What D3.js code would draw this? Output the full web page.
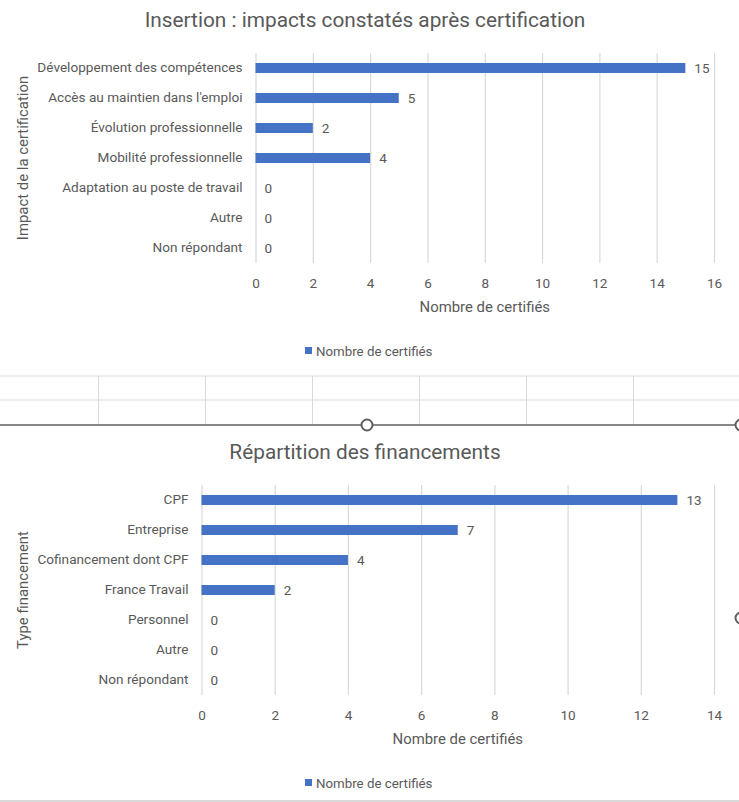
<!DOCTYPE html>
<html><head><meta charset="utf-8">
<script src="https://cdn.jsdelivr.net/npm/d3@7"></script>
<style>
html,body{margin:0;padding:0;background:#fff;}
svg{display:block;font-family:Roboto, "Open Sans", sans-serif;}
</style></head>
<body>
<svg id="c" width="739" height="802"></svg>
<script>
// ---- Data ----
const impactTitle = "Insertion : impacts constatés après certification";
const impactCategories = ["Développement des compétences","Accès au maintien dans l'emploi","Évolution professionnelle","Mobilité professionnelle","Adaptation au poste de travail","Autre","Non répondant"];
const impactValues = [15,5,2,4,0,0,0];
const impactTicks = [0,2,4,6,8,10,12,14,16];
const impactYTitle = "Impact de la certification";

const financeTitle = "Répartition des financements";
const financeCategories = ["CPF","Entreprise","Cofinancement dont CPF","France Travail","Personnel","Autre","Non répondant"];
const financeValues = [13,7,4,2,0,0,0];
const financeTicks = [0,2,4,6,8,10,12,14];
const financeYTitle = "Type financement";

const xAxisTitle = "Nombre de certifiés";
const seriesName = "Nombre de certifiés";

const svg = d3.select("#c");
const TXT = "#595959", BAR = "#4472C4", GRID = "#d9d9d9";

// spreadsheet background between the charts
const sheet = svg.append("g");
sheet.append("line").attr("x1",0).attr("x2",739).attr("y1",376).attr("y2",376).attr("stroke","#dadada").attr("stroke-width",1.2);
sheet.append("line").attr("x1",0).attr("x2",739).attr("y1",400).attr("y2",400).attr("stroke","#dadada").attr("stroke-width",1.2);
[98.5,205.5,312.5,419.5,526.5,633.5].forEach(x=>{
  sheet.append("line").attr("x1",x).attr("x2",x).attr("y1",376).attr("y2",424).attr("stroke","#dadada").attr("stroke-width",1);
});
sheet.append("line").attr("x1",0).attr("x2",739).attr("y1",801).attr("y2",801).attr("stroke","#d9d9d9").attr("stroke-width",2);

function drawChart(o){
  const g = svg.append("g");
  const x = d3.scaleLinear().domain([o.ticks[0], o.ticks[o.ticks.length-1]]).range([o.x0,o.x1]);
  const y = d3.scaleBand().domain(o.categories).range([o.yTop,o.yBot]).paddingInner(0.667).paddingOuter(0.333);
  // title
  g.append("text").attr("x",365).attr("y",o.titleY).attr("text-anchor","middle")
    .attr("font-size",20.8).attr("fill",TXT).text(o.title);
  // gridlines
  const ax = d3.axisBottom(x).tickValues(o.ticks).tickSize(o.yBot-o.yTop).tickFormat(d3.format("d"));
  const axG = g.append("g").attr("transform",`translate(0,${o.yTop})`).call(ax);
  axG.select(".domain").remove();
  axG.selectAll(".tick line").attr("stroke",GRID).attr("stroke-width",1.2);
  axG.selectAll(".tick text").attr("fill",TXT).attr("font-size",13.5).attr("dy",0).attr("y",o.yBot-o.yTop+25).attr("font-family","Roboto, sans-serif");
  // y axis labels
  const yAx = d3.axisLeft(y).tickSize(0).tickPadding(13);
  const yG = g.append("g").attr("transform",`translate(${o.x0},0)`).call(yAx);
  yG.select(".domain").remove();
  yG.selectAll(".tick text").attr("fill",TXT).attr("font-size",13.6).attr("font-family","Roboto, sans-serif");
  // bars
  g.selectAll("rect.bar").data(o.categories).enter().append("rect")
    .attr("x",x(0)).attr("y",d=>y(d)).attr("height",y.bandwidth())
    .attr("width",(d,i)=>x(o.values[i])-x(0)).attr("fill",BAR);
  // data labels
  g.selectAll("text.lbl").data(o.categories).enter().append("text")
    .attr("x",(d,i)=>x(o.values[i])+9).attr("y",d=>y(d)+y.bandwidth()/2).attr("dy","0.36em")
    .attr("font-size",13.5).attr("fill",TXT).text((d,i)=>o.values[i]);
  // axis title
  g.append("text").attr("x",(o.x0+o.x1)/2).attr("y",o.yBot+49).attr("text-anchor","middle")
    .attr("font-size",14.9).attr("fill",TXT).text(xAxisTitle);
  // y title
  g.append("text").attr("transform",`translate(27.5,${(o.yTop+o.yBot)/2}) rotate(-90)`).attr("text-anchor","middle")
    .attr("font-size",14.9).attr("fill",TXT).text(o.yTitle);
  // legend
  const lg = g.append("g").attr("transform",`translate(305,${o.legendY})`);
  lg.append("rect").attr("x",0).attr("y",-4).attr("width",7).attr("height",7).attr("fill",BAR);
  lg.append("text").attr("x",11).attr("y",0).attr("dy","0.36em").attr("font-size",13.3).attr("fill",TXT).text(seriesName);
  return g;
}

drawChart({title:impactTitle,categories:impactCategories,values:impactValues,ticks:impactTicks,yTitle:impactYTitle,
  x0:255.5,x1:714,yTop:53,yBot:263,titleY:27,legendY:351});
drawChart({title:financeTitle,categories:financeCategories,values:financeValues,ticks:financeTicks,yTitle:financeYTitle,
  x0:201.5,x1:714,yTop:485,yBot:695,titleY:459,legendY:783});

// selection frame of the second chart
const sel = svg.append("g");
sel.append("line").attr("x1",0).attr("x2",739).attr("y1",425).attr("y2",425).attr("stroke","#5f5f5f").attr("stroke-width",1.5);
[[367,425],[741,425],[741,618]].forEach(([cx,cy])=>{
  sel.append("circle").attr("cx",cx).attr("cy",cy).attr("r",5.5).attr("fill","#fff").attr("stroke","#5f5f5f").attr("stroke-width",2);
});
</script>
</body></html>
